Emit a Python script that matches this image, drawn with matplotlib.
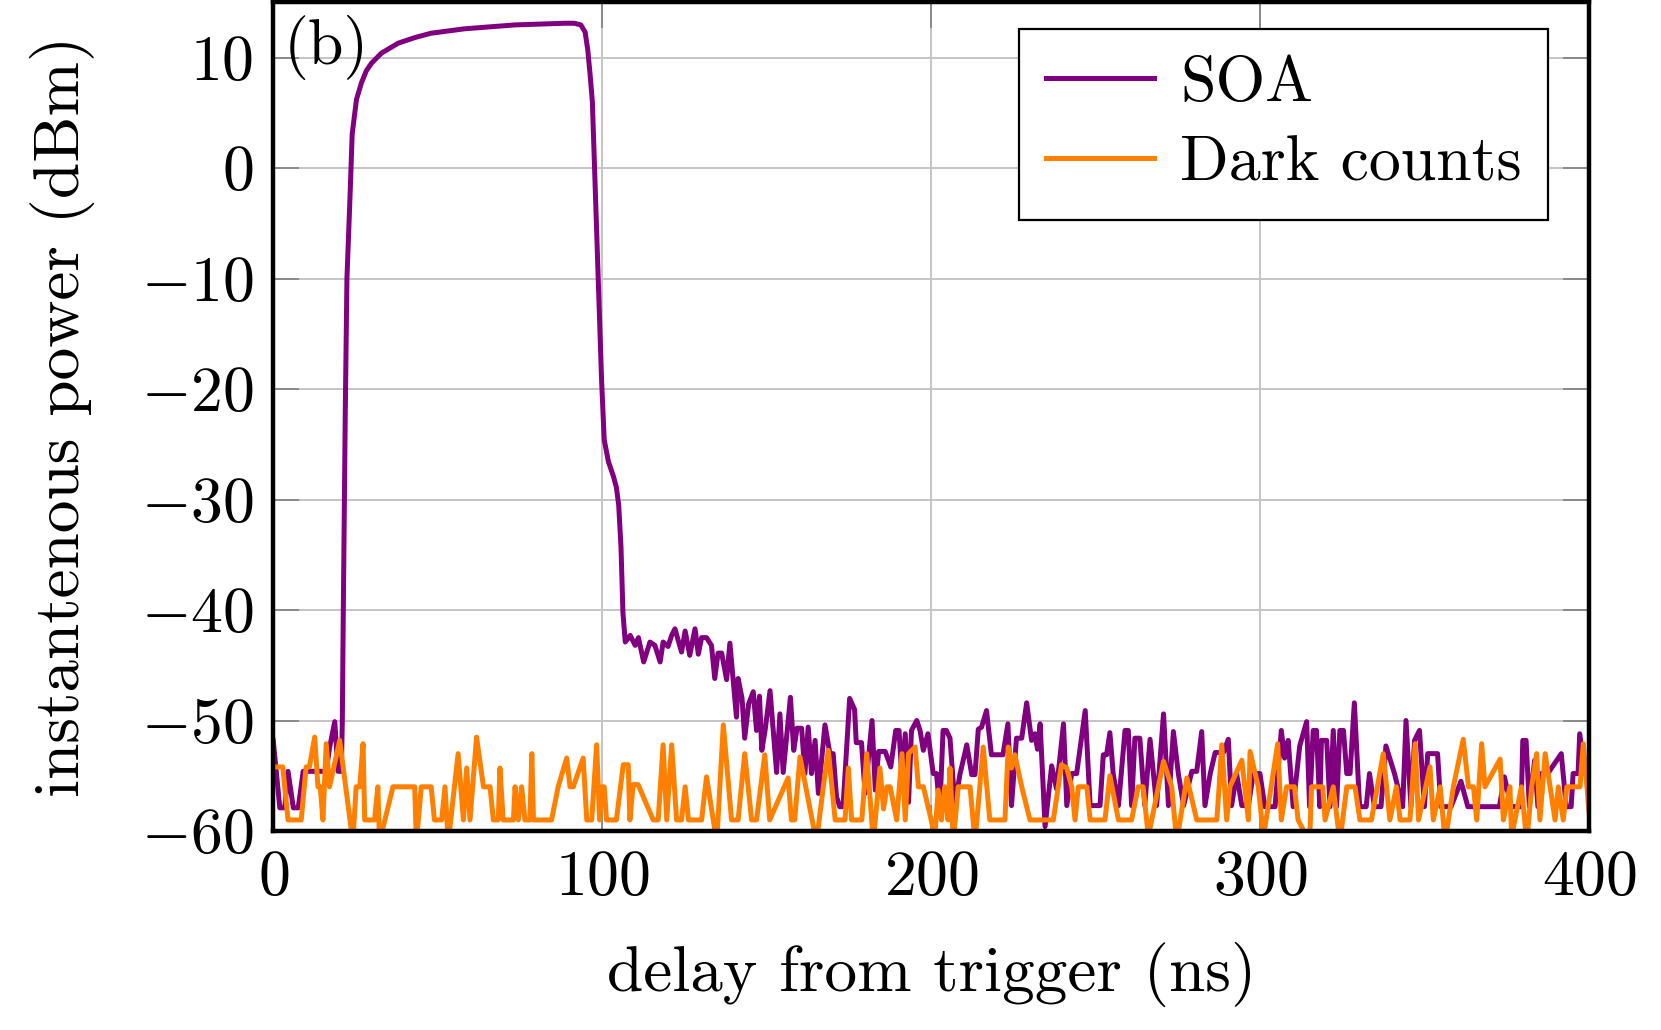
import numpy as np
import matplotlib
matplotlib.use("Agg")
import matplotlib.pyplot as plt

plt.rcParams['font.family'] = 'serif'
plt.rcParams['font.serif'] = ['cmr10']
plt.rcParams['mathtext.fontset'] = 'cm'
plt.rcParams['axes.formatter.use_mathtext'] = True

# --- DATA ---

# SOA trace: delay (ns) and instantaneous power (dBm)
soa_t = [0, 2, 3.5, 4.5, 6.1, 7.6, 9.1, 16.1, 17.1, 18.7, 19.7, 20.7,
         21.0, 21.3, 21.9, 22.4, 23.3, 24, 25.3, 26.8, 28.3, 29.9, 32.9, 38, 43, 48,
         58.2, 73.4, 88.6, 91.5, 93.5, 94.8, 95.6, 96.3, 97, 97.6, 98, 98.9, 99.8,
         100.6, 101.9, 103.4, 104.3, 105, 105.7, 106.3, 107,
         108.5, 110, 111, 112.6, 114.5, 116, 117.6, 118.5, 120, 121.1, 122.1, 124.1,
         125.2, 126.6, 128.2, 129.2, 130.2, 131.7, 133.2, 134.2, 135.2, 136.3, 137.8,
         138.8, 140.8, 141.3, 142.5, 143.3, 144.5, 145.9, 146.9, 147.8, 148.5, 149.5,
         151, 153, 154, 155, 157.2, 158.2, 159.2, 160.6, 161.6, 162.6, 163.6, 164.7,
         165.7, 167.7, 169.2, 170.2, 171.2, 172.2, 173.2, 175.2, 176.7, 177.2, 178.8,
         179.9, 182, 183, 184, 186, 187.7, 189.2, 190.2, 191.1, 192.1, 193.1, 194,
         195.6, 196.6, 197.6, 199, 200.6,
         201.6, 202.6, 203.6, 204.6, 205.7, 207.2, 208.7, 210.8, 212.3, 213.3, 214.3,
         215.3, 216.8, 218.3, 221.8, 223.3, 224.4, 225.9, 227.5, 229, 230.5, 231.5,
         232.3, 233.1, 234.6, 236.6, 238.1, 240.2, 241.2, 242.7, 244.2, 246.8, 248.3,
         251.3, 252.3, 253.3, 254.3, 255.3, 256.9, 258.9, 259.9, 260.9, 261.9, 263.4,
         264.9, 266.5, 268.5, 270.6, 272.1, 273.6, 275.1, 276.7, 279.2, 280.7, 282.2,
         283.2, 284.8, 286.3, 288.8, 290.3, 291.3, 292.8, 294.4, 296.4, 297.9, 299.9,
         301.4, 304.5, 306.4, 307.4, 308.5, 310, 312, 314.1, 315, 316.1, 317.1, 318.1,
         318.6, 320.2, 321.2, 322.2, 323.2, 324.2, 325.3, 326.3, 327.3, 328.6, 330.2,
         332.2, 333.2, 334.7, 336.7, 338.2, 340.8, 343.3, 344.3, 345.8, 346.9, 348.4,
         349.9, 350.9, 353.9, 354.9, 358, 361, 363.1, 372.7, 374.2, 376.3, 379.3,
         379.8, 380.8, 381.8, 383.4, 384.4, 385.4, 387.4, 391.5, 393, 394.5, 395.1,
         396.6, 397.1, 398.6, 400]
soa_db = [-51.8, -57.9, -57.9, -54.6, -57.9, -57.9, -54.6, -54.6, -52.5, -50.1, -54.6, -54.6,
          -50, -40, -22, -10, -2.9, 3.1, 6.2, 7.7, 8.8, 9.5, 10.4, 11.3, 11.8, 12.2,
          12.6, 12.95, 13.1, 13.1, 12.95, 12.3, 10.7, 8.5, 6, 0.5, -3, -11, -19.2,
          -24.6, -26.6, -27.9, -28.9, -30.5, -34.3, -40.3, -42.9,
          -42.3, -43.2, -42.5, -44.7, -42.9, -43.2, -44.7, -42.9, -43.3, -42.3, -41.7, -43.8,
          -41.9, -44.1, -41.7, -44, -42.5, -42.5, -43.2, -46.2, -43.9, -43.9, -46.3,
          -43, -49.7, -46.2, -48, -51.6, -48.5, -47.4, -50.9, -47.8, -52.7, -50.9,
          -47.3, -54.7, -49.4, -54.7, -47.9, -52.7, -50.7, -50.7, -54.8, -50.6, -54.8, -51.8,
          -56.6, -50.4, -53, -53, -56.9, -57.8, -57.8, -48, -49, -52, -52,
          -56.6, -50, -56.3, -52.8, -52.8, -54.2, -50.9, -50.9, -55.2, -51.2, -57.4, -50.9,
          -50, -50.9, -52.7, -51.2, -54.8,
          -54.8, -58.1, -50.9, -50.9, -51.6, -57.7, -54.9, -52.2, -54.9, -54.9, -50.8,
          -50.6, -49.1, -53.1, -53.1, -50.3, -57.7, -51.6, -51.6, -48.4, -51.8, -51.2,
          -52.6, -50.3, -59.6, -54.1, -56.2, -50.3, -57.7, -54.8, -54.8, -49.1, -57.7,
          -57.7, -53.1, -53.1, -51.1, -54.8, -57.7, -50.9, -50.9, -57.7, -51.6, -51.6,
          -57.7, -51.7, -57.7, -49.4, -57.7, -51, -54.8, -57.7, -54.6, -54.6, -51,
          -57.7, -54.8, -52.9, -52.9, -51.7, -57.7, -54.8, -57.7, -57.7, -54.8, -54.8,
          -57.8, -57.8, -50.9, -53.4, -51.8, -57.8, -52.3, -50.1, -57.8, -50.9, -50.9, -57.8,
          -51.8, -51.8, -57.8, -50.9, -57.8, -50.9, -50.9, -54.8, -54.8, -48.4, -57.8,
          -57.8, -54.8, -57.8, -57.8, -52.3, -54.8, -57.8, -50, -57.8, -51.8, -50.9,
          -57.8, -53, -53, -57.8, -57.8, -55.5, -57.8, -57.8, -55.1, -57.8, -57.8,
          -51.8, -51.8, -57.8, -53.6, -57.8, -54.8, -54.8, -53, -57.8, -57.8, -54.8,
          -54.8, -51.2, -54.8, -54.8]

# Dark counts trace
dark_t = [0, 2.9, 4.5, 8.5, 10, 11, 12.6, 13.6, 14.3, 15.1, 16.1, 17.1, 20.2, 24.2,
          25.2, 26.3, 27.3, 27.8, 30.8, 31.8, 32.3, 36.4, 43, 43.5, 45, 48, 49,
          51.2, 52.2, 53.2, 56.2, 57.8, 58.8, 59.8, 61.8, 63.9, 65.9, 66.9, 68.4, 68.9,
          69.9, 73, 73.5, 74.5, 75.5, 76.5, 78, 78.6, 79.1, 84.6, 86.6, 89.2, 90.2,
          91.2, 94.2, 95.3, 96.8, 98.3, 99.2, 99.9, 100.6, 101.3, 104.3,
          106.4, 107.9, 108.4, 109.4, 110.9, 115.5, 117, 118.5, 119.6, 121.1, 122.6,
          124.1, 125.2, 126.2, 130.2, 131.7, 134.8, 136.8, 139.3, 141.3, 143.3, 145.4,
          146.9, 149.4, 150.9, 156.5, 157.5, 158.5, 160.1, 165.1, 167.2, 168.7, 170.8,
          173.8, 174.8, 175.8, 178.9, 180.4, 182.4, 184.4, 185.5, 186.5, 187.5, 189.5,
          191.1, 192.1, 193.1, 195.1, 196.1, 197.6, 199.6,
          201.1, 202.1, 203.1, 204.1, 205.1, 205.7, 206.7, 208.2, 211.8, 213.3, 215.8,
          217.8, 222.4, 223.4, 224.4, 225.4, 227.5, 230, 237.1, 239.6, 241.2, 242.7,
          243.7, 244.7, 247.3, 248.3, 252.8, 254.3, 256.9, 260.9, 262.9, 264.4, 266,
          270.6, 273.1, 274.6, 277.7, 280.7, 286.8, 287.5, 288.3, 289.8, 290.8, 294.4,
          296.4, 296.9, 299.4, 301, 305.3, 306.4, 308, 310.4, 311.5, 315, 315.6, 319,
          319.7, 322.2, 324.2, 326.3, 328.8, 330.3, 333.8, 337.4, 339.4, 341.4, 342.5,
          345.5, 347.1, 348.1, 351.6, 352.6, 354.7, 356.2, 358.7, 361.7, 363.3, 364.8,
          365.8, 367.3, 368.3, 372.9, 373.9, 375.9, 376.4, 379.4, 381, 382.5, 384, 385,
          386.6, 388.1, 389.6, 390.6, 392.1, 393.2, 397.2, 398.2, 400]
dark_db = [-54.2, -54.2, -59, -59, -54.2, -54.2, -51.5, -56, -56, -59, -52.1, -56, -51.8, -61,
           -56, -56, -52.1, -59, -59, -56, -61, -56, -56, -61, -56, -56, -59,
           -59, -56, -61, -53, -59, -54.3, -59, -51.5, -56, -56, -59, -59, -54.3,
           -59, -59, -56, -59, -56, -59, -59, -53, -59, -59, -56, -53.4, -56,
           -56, -53.4, -59, -59, -52.2, -59, -56, -56, -59, -59,
           -54, -54, -59, -55.8, -55.8, -59, -59, -52.2, -59, -52.2, -59,
           -59, -56, -59, -59, -55.1, -61, -50.4, -59, -59, -53, -59,
           -59, -53.1, -59, -55.2, -59, -59, -53.3, -61, -56, -52.7, -59,
           -59, -54.3, -59, -59, -53, -61, -54.3, -58, -56, -56, -59,
           -53, -59, -53, -52.4, -56, -56, -58.5,
           -60.5, -56.3, -59, -56, -59, -54.3, -61, -56, -56, -61, -52.4,
           -59, -59, -52.4, -54.3, -53.1, -56, -59, -59, -54, -54.3, -56,
           -59, -56, -56, -59, -59, -55, -59, -59, -56, -56, -60.5,
           -53.7, -56, -61, -55.2, -59, -59, -56, -52.2, -59, -56, -53.6,
           -59, -52.8, -56, -60.5, -52.1, -59, -56, -56, -59, -61, -56, -56,
           -59, -56, -61, -56, -56, -59, -59, -53, -59, -56, -59,
           -59, -52.1, -59, -54.2, -59, -56, -61, -56, -51.7, -56, -56,
           -59, -52.1, -56, -53.5, -59, -56, -60.5, -56, -61, -56, -53, -59,
           -53, -56, -59, -56, -59, -56, -56, -52.1, -58.5]

x_ticks = [0, 100, 200, 300, 400]
y_ticks = [-60, -50, -40, -30, -20, -10, 0, 10]

# --- PLOT ---
fig = plt.figure(figsize=(16.61, 10.30), dpi=100)
ax = fig.add_axes([0.1645, 0.1932, 0.7923, 0.8046])

ax.plot(soa_t, soa_db, color='#800080', lw=3.6, label='SOA', zorder=3)
ax.plot(dark_t, dark_db, color='#ff8000', lw=3.6, label='Dark counts', zorder=4)

ax.set_xlim(0, 400)
ax.set_ylim(-60, 15)
ax.set_xticks(x_ticks)
ax.set_yticks(y_ticks)

ax.grid(True, color='#c4c4c4', lw=1.4)
ax.set_axisbelow(True)
ax.tick_params(direction='in', length=19, width=1.4, color='#8a8a8a',
               top=True, right=True, labelsize=46, pad=14)
for s in ax.spines.values():
    s.set_linewidth(3.2)
    s.set_color('black')
    s.set_zorder(5)

ax.set_xlabel('delay from trigger (ns)', fontsize=47, labelpad=24)
ax.set_ylabel('instantenous power (dBm)', fontsize=47, labelpad=33)

ax.text(0.008, 0.985, '(b)', transform=ax.transAxes, fontsize=46,
        ha='left', va='top')

leg = ax.legend(loc='upper right', bbox_to_anchor=(0.969, 0.968), borderaxespad=0,
                fontsize=46, fancybox=False, framealpha=1, edgecolor='black',
                handlelength=1.7, borderpad=0.42, labelspacing=0.34, handletextpad=0.4)
leg.get_frame().set_linewidth(1.6)

fig.savefig('out.png', dpi=100)
